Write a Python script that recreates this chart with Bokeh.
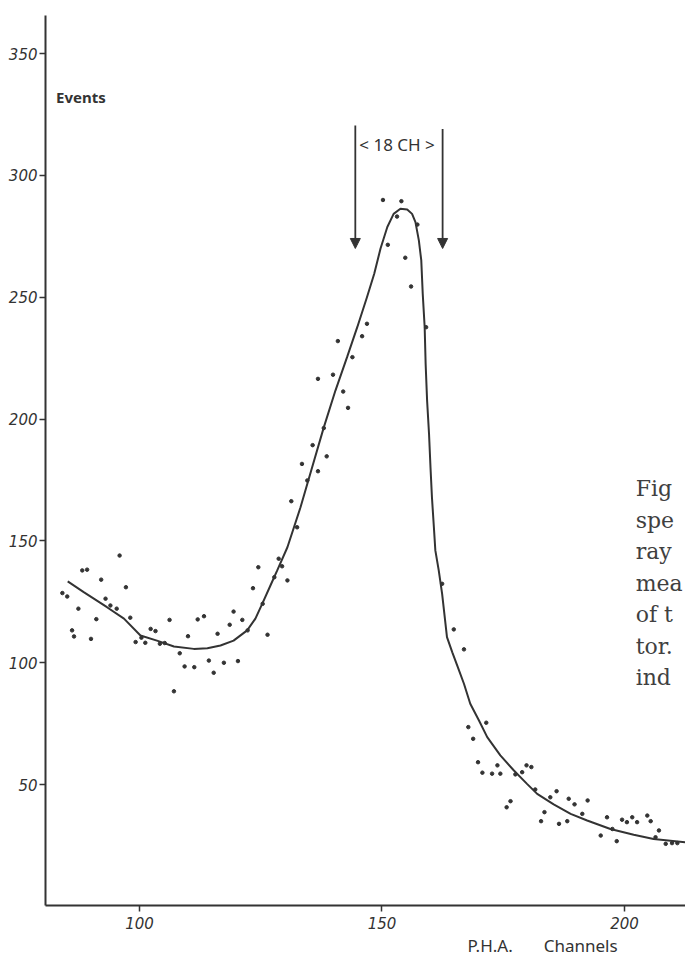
from bokeh.plotting import figure
from bokeh.models import Range1d, FixedTicker, Label, Arrow, NormalHead, Title
from bokeh.embed import file_html
from bokeh.resources import INLINE

# ---- data ----
curve_x = [85.2, 88.5, 93.3, 96.8, 100.2, 103.6, 107.1, 111.2, 114.0, 116.7, 119.4,
           122.2, 123.9, 125.3, 127.0, 128.4, 130.5, 133.2, 135.6, 138.0, 140.4,
           142.8, 144.9, 146.9, 148.4, 149.7, 151.1, 152.4, 153.8, 155.2, 156.2,
           156.9, 157.6, 158.1, 158.4, 158.8, 159.0, 159.3, 159.7, 160.0, 160.3,
           160.7, 161.0, 161.7, 162.4, 163.4, 164.5, 165.5, 166.9, 168.2, 170.0,
           171.7, 174.4, 177.2, 179.9, 182.0, 185.4, 188.9, 192.3, 197.1, 201.9,
           206.0, 212.6]
curve_y = [133.4, 129.0, 122.8, 118.1, 111.2, 109.1, 106.7, 105.7, 106.0, 107.1, 109.1,
           113.3, 118.1, 124.2, 131.7, 137.9, 147.4, 163.8, 180.2, 196.6, 211.7,
           225.4, 237.7, 250.0, 259.6, 270.0, 278.8, 284.2, 286.3, 286.0, 284.2,
           280.8, 273.3, 265.1, 251.4, 237.7, 222.6, 207.6, 193.9, 180.2, 167.9,
           155.6, 146.1, 137.9, 128.3, 110.5, 104.3, 98.9, 91.4, 83.2, 76.3,
           69.5, 62.0, 55.8, 50.3, 46.2, 41.9, 38.0, 35.3, 31.8, 29.4,
           27.7, 26.3]

pts_x = [84.1, 85.1, 86.1, 86.5, 87.4, 88.2, 89.2, 90.0, 91.1, 92.1, 93.0, 94.0, 95.3,
         95.9, 97.2, 98.1, 99.2, 100.4, 101.2, 102.3, 103.3, 104.2, 105.2, 106.2, 107.1,
         108.3, 109.3, 110.0, 111.3, 112.0, 113.3, 114.3, 115.3, 116.1, 117.4, 118.6,
         119.4, 120.3, 121.2, 122.3, 123.4, 124.5, 125.4, 126.4, 127.8, 128.7, 129.4,
         130.5, 131.3, 132.5,
         154.8, 156.0, 159.1, 146.9, 145.9, 140.9, 143.9, 136.8, 139.9, 142.0, 143.0,
         138.0, 135.7, 138.6, 133.5, 136.8, 134.6,
         150.2, 154.0, 153.1, 157.3, 151.2,
         162.4, 164.8, 166.9, 167.8, 168.8, 171.5, 169.8, 170.7, 172.7, 173.8, 174.4,
         177.5, 178.9, 179.8, 180.8, 181.6, 175.7, 176.5, 183.5, 182.8, 184.7, 186.0,
         186.5, 188.2, 188.5, 189.7, 191.3, 192.4, 195.1, 196.4, 197.5, 198.4, 199.5,
         200.5, 201.6, 202.6, 204.7, 205.4, 206.4, 207.1, 208.5, 209.8, 210.9]
pts_y = [128.6, 127.2, 113.3, 110.8, 122.2, 137.9, 138.2, 109.8, 117.9, 134.1, 126.3,
         123.5, 122.2, 144.0, 131.0, 118.5, 108.5, 110.3, 108.2, 113.9, 113.0, 107.8,
         108.1, 117.6, 88.3, 103.9, 98.5, 110.9, 98.2, 117.8, 119.1, 100.9, 95.9, 111.9,
         100.0, 115.6, 121.0, 100.7, 117.6, 113.3, 130.6, 139.2, 124.2, 111.5, 135.1,
         142.7, 139.6, 133.8, 166.3, 155.6,
         266.2, 254.4, 237.7, 239.1, 234.0, 232.0, 225.4, 216.5, 218.2, 211.3, 204.6,
         196.3, 189.3, 184.7, 181.6, 178.6, 174.8,
         289.9, 289.4, 283.1, 279.8, 271.5,
         132.4, 113.7, 105.5, 73.6, 68.8, 75.4, 59.2, 54.9, 54.5, 57.9, 54.5,
         54.2, 55.1, 57.9, 57.2, 48.0, 40.7, 43.2, 38.7, 35.0, 44.8, 47.3,
         33.9, 35.0, 44.2, 41.9, 38.0, 43.5, 29.1, 36.6, 31.8, 26.8, 35.6,
         34.6, 36.6, 34.6, 37.3, 35.0, 28.4, 31.2, 25.7, 26.0, 26.0]

x_ticks = [100, 150, 200]
y_ticks = [50, 100, 150, 200, 250, 300, 350]

window_x = [144.5, 162.5]          # the 18-channel window marked by arrows
window_top = [320.5, 319.0]
window_tip = 270.0

caption_lines = ["Fig", "spe", "ray", "mea", "of t", "tor.", "ind"]
x_title = "P.H.A.\u00a0\u00a0\u00a0\u00a0\u00a0\u00a0\u00a0Channels"

INK = "#333333"

p = figure(width=685, height=956, output_backend="svg", toolbar_location=None,
           x_range=Range1d(80.62, 212.58), y_range=Range1d(0.4, 365.6),
           min_border_left=45, min_border_right=0, min_border_top=15,
           min_border_bottom=51)
p.outline_line_color = None
p.xgrid.visible = False
p.ygrid.visible = False
p.background_fill_color = "white"

for ax in (p.xaxis[0], p.yaxis[0]):
    ax.axis_line_color = INK
    ax.axis_line_width = 2
    ax.major_tick_line_color = INK
    ax.major_tick_line_width = 1.5
    ax.major_tick_in = 0
    ax.major_tick_out = 6
    ax.minor_tick_line_color = None
    ax.major_label_text_font = "DejaVu Sans"
    ax.major_label_text_font_style = "italic"
    ax.major_label_text_font_size = "15px"
    ax.major_label_text_color = INK

p.xaxis.ticker = FixedTicker(ticks=x_ticks)
p.yaxis.ticker = FixedTicker(ticks=y_ticks)
p.xaxis.major_label_standoff = 5
p.yaxis.major_label_standoff = 2

p.add_layout(Title(text=x_title, align="left", offset=422, standoff=0,
                   text_font="Noto Sans", text_font_size="17px",
                   text_font_style="normal", text_color=INK), "below")

p.line(curve_x, curve_y, line_color=INK, line_width=2)
p.scatter(pts_x, pts_y, size=3.5, color=INK)

for xv, yt in zip(window_x, window_top):
    p.add_layout(Arrow(end=NormalHead(size=10, fill_color=INK, line_color=INK),
                       x_start=xv, y_start=yt, x_end=xv, y_end=window_tip,
                       line_color=INK, line_width=1.8))

p.add_layout(Label(x=153.1, y=312.7, text="< 18 CH >", text_align="center",
                   text_baseline="middle", text_font="Noto Sans",
                   text_font_size="17px", text_color=INK))
p.add_layout(Label(x=82.8, y=332.0, text="Events", text_align="left",
                   text_baseline="middle", text_font="Noto Sans",
                   text_font_size="15px", text_font_style="bold", text_color=INK))

for i, line in enumerate(caption_lines):
    p.add_layout(Label(x=202.3, y=171.5 - i * 12.93, text=line, text_align="left",
                       text_baseline="alphabetic", text_font="DejaVu Serif",
                       text_font_size="22px", text_color="#404040"))

open("out.html", "w").write(file_html(p, INLINE))
